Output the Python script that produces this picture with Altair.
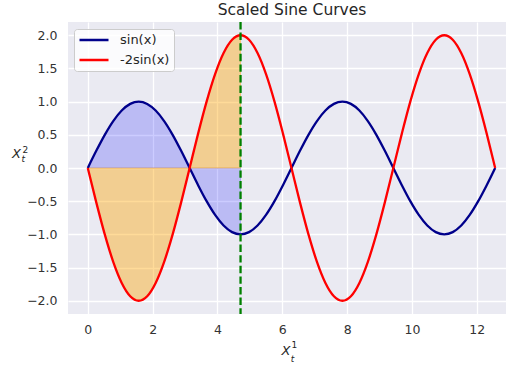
import altair as alt
import pandas as pd

# sample points along x (0 .. 4*pi)
x_vals = [0, 0.262, 0.524, 0.785, 1.047, 1.309, 1.571, 1.833, 2.094, 2.356, 2.618, 2.880,
          3.142, 3.403, 3.665, 3.927, 4.189, 4.451, 4.712, 4.974, 5.236, 5.498, 5.760, 6.021,
          6.283, 6.545, 6.807, 7.069, 7.330, 7.592, 7.854, 8.116, 8.378, 8.639, 8.901, 9.163,
          9.425, 9.687, 9.948, 10.210, 10.472, 10.734, 10.996, 11.257, 11.519, 11.781, 12.043,
          12.305, 12.566]
sin_vals = [0, 0.259, 0.5, 0.707, 0.866, 0.966, 1, 0.966, 0.866, 0.707, 0.5, 0.259,
            0, -0.259, -0.5, -0.707, -0.866, -0.966, -1, -0.966, -0.866, -0.707, -0.5, -0.259,
            0, 0.259, 0.5, 0.707, 0.866, 0.966, 1, 0.966, 0.866, 0.707, 0.5, 0.259,
            0, -0.259, -0.5, -0.707, -0.866, -0.966, -1, -0.966, -0.866, -0.707, -0.5, -0.259,
            0]
neg2sin_vals = [0, -0.518, -1, -1.414, -1.732, -1.932, -2, -1.932, -1.732, -1.414, -1, -0.518,
                0, 0.518, 1, 1.414, 1.732, 1.932, 2, 1.932, 1.732, 1.414, 1, 0.518,
                0, -0.518, -1, -1.414, -1.732, -1.932, -2, -1.932, -1.732, -1.414, -1, -0.518,
                0, 0.518, 1, 1.414, 1.732, 1.932, 2, 1.932, 1.732, 1.414, 1, 0.518,
                0]
series_names = ["sin(x)", "-2sin(x)"]
series_colors = ["#00008B", "#FF0000"]
fill_end = [4.712]          # shaded region / dashed line at 3*pi/2
x_ticks = [0, 2, 4, 6, 8, 10, 12]
y_ticks = [-2.0, -1.5, -1.0, -0.5, 0.0, 0.5, 1.0, 1.5, 2.0]
title_text = "Scaled Sine Curves"

df = pd.DataFrame({"x": x_vals, "s1": sin_vals, "s2": neg2sin_vals})
long = pd.concat([
    pd.DataFrame({"x": x_vals, "y": sin_vals, "series": series_names[0]}),
    pd.DataFrame({"x": x_vals, "y": neg2sin_vals, "series": series_names[1]}),
])

xscale = alt.Scale(domain=[-0.61, 12.90], nice=False, zero=False)
yscale = alt.Scale(domain=[-2.2, 2.2], nice=False, zero=False)
xax = alt.Axis(values=x_ticks, title=None, grid=True, domain=False, ticks=False, tickSize=0,
               labelPadding=9, labelFontSize=12.5, labelFont="DejaVu Sans", labelColor="#333333",
               gridColor="white", gridWidth=1.3, labelFlush=False, labelOverlap=False)
yax = alt.Axis(values=y_ticks, title=None, grid=True, domain=False, ticks=False, tickSize=0,
               labelPadding=11, labelFontSize=12.5, labelFont="DejaVu Sans", labelColor="#333333",
               gridColor="white", gridWidth=1.3, format=".1f", labelFlush=False,
               labelOverlap=False, tickCount=9)

X = lambda f: alt.X(f, type="quantitative", scale=xscale, axis=xax)
Y = lambda f: alt.Y(f, type="quantitative", scale=yscale, axis=yax)

color = alt.Color("series:N",
                  scale=alt.Scale(domain=series_names, range=series_colors),
                  legend=alt.Legend(orient="none", legendX=6, legendY=7, title=None,
                                    symbolType="stroke", symbolSize=841, symbolStrokeWidth=2.3,
                                    clipHeight=14, rowPadding=6,
                                    labelFontSize=13, labelFont="DejaVu Sans", labelColor="#262626",
                                    fillColor="rgba(255,255,255,0.8)", strokeColor="#cccccc",
                                    cornerRadius=3, padding=4, labelOffset=10))

base = alt.Chart(df)
fill_blue = base.transform_filter(alt.datum.x <= fill_end[0] + 0.001).mark_area(
    color="blue", fillOpacity=0.2, stroke="blue", strokeOpacity=0.2, strokeWidth=1
).encode(x=X("x"), y=Y("s1"), y2=alt.datum(0))
fill_orange = base.transform_filter(alt.datum.x <= fill_end[0] + 0.001).mark_area(
    color="orange", fillOpacity=0.4, stroke="orange", strokeOpacity=0.4, strokeWidth=1
).encode(x=X("x"), y=Y("s2"), y2=alt.datum(0))

lines = alt.Chart(long)
line1 = lines.transform_filter(alt.datum.series == series_names[0]).mark_line(
    strokeWidth=2.3, interpolate="monotone"
).encode(x=X("x"), y=Y("y"), color=color)
line2 = lines.transform_filter(alt.datum.series == series_names[1]).mark_line(
    strokeWidth=2.3, interpolate="monotone"
).encode(x=X("x"), y=Y("y"), color=color)

vline = alt.Chart(pd.DataFrame({"x": fill_end})).mark_rule(
    color="green", strokeWidth=2.3, strokeDash=[7.4, 3.2]
).encode(x=X("x"))


def txt(s, x, y, size, italic=True, align="left"):
    return alt.Chart(pd.DataFrame({"t": [s]})).mark_text(
        text=s, font="DejaVu Sans", fontSize=size, fontStyle="italic" if italic else "normal",
        align=align, baseline="alphabetic", color="#262626"
    ).encode(x=alt.value(x), y=alt.value(y))


labels = [
    txt(title_text, 224, -7, 15.5, False, "center"),
    txt("X", -56, 136, 13), txt("2", -45.5, 130.5, 9, False), txt("t", -46.5, 140, 9),
    txt("X", 213.5, 333, 13), txt("1", 223.5, 325.5, 9, False), txt("t", 222.8, 339.5, 9),
]

chart = alt.layer(fill_blue, fill_orange, line1, line2, vline, *labels).properties(
    width=438, height=292,
    padding={"left": 68, "top": 22, "right": 0, "bottom": 54},
    autosize=alt.AutoSizeParams(type="none"),
).configure(background="white").configure_view(fill="#EAEAF2", stroke=None)

chart.save("out.html", embed_options={"renderer": "svg", "actions": False})
